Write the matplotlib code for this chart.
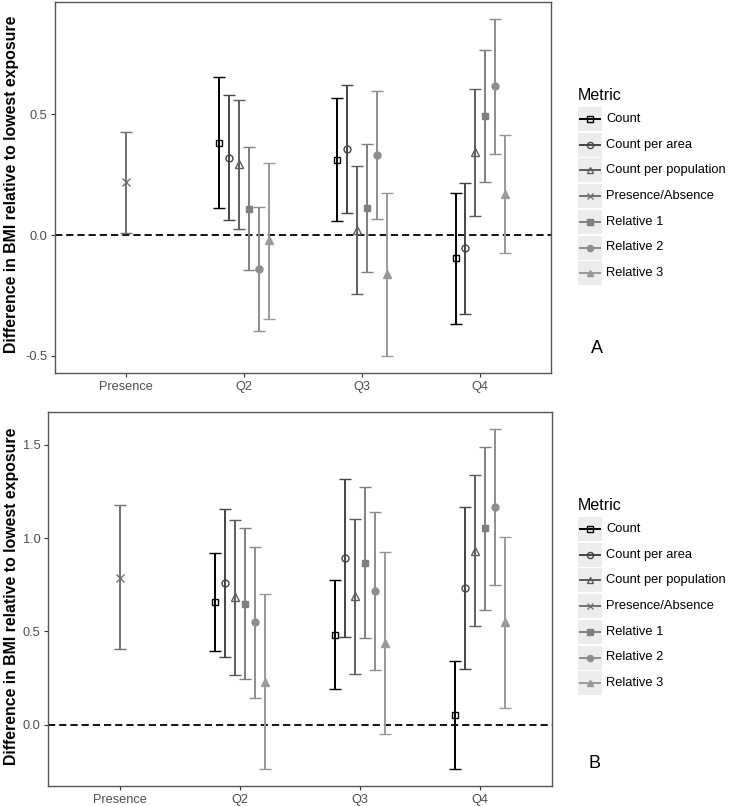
import numpy as np
import matplotlib
matplotlib.use("Agg")
import matplotlib.pyplot as plt
from matplotlib.patches import Rectangle
from matplotlib.lines import Line2D

plt.rcParams['font.family'] = ['Liberation Sans', 'DejaVu Sans']

nan = np.nan
categories = ["Presence", "Q2", "Q3", "Q4"]
metrics = ["Count", "Count per area", "Count per population", "Presence/Absence",
           "Relative 1", "Relative 2", "Relative 3"]
colors = ["#000000", "#444444", "#5D5D5D", "#707070", "#7F7F7F", "#8D8D8D", "#999999"]
markers = ["s", "o", "^", "x", "s", "o", "^"]
filled = [False, False, False, True, True, True, True]
msizes = [4.6, 5.0, 5.4, 5.6, 4.6, 5.0, 5.4]

# Panel A (rows = metrics, columns = categories)
A_est = [[nan, 0.383, 0.311, -0.095],
         [nan, 0.318, 0.355, -0.054],
         [nan, 0.293, 0.022, 0.344],
         [0.218, nan, nan, nan],
         [nan, 0.109, 0.112, 0.493],
         [nan, -0.140, 0.331, 0.616],
         [nan, -0.022, -0.160, 0.169]]
A_lo = [[nan, 0.114, 0.059, -0.366],
        [nan, 0.061, 0.091, -0.325],
        [nan, 0.025, -0.244, 0.080],
        [0.007, nan, nan, nan],
        [nan, -0.146, -0.152, 0.218],
        [nan, -0.399, 0.066, 0.335],
        [nan, -0.347, -0.501, -0.074]]
A_hi = [[nan, 0.656, 0.566, 0.176],
        [nan, 0.580, 0.620, 0.215],
        [nan, 0.559, 0.286, 0.605],
        [0.428, nan, nan, nan],
        [nan, 0.366, 0.379, 0.766],
        [nan, 0.118, 0.598, 0.895],
        [nan, 0.300, 0.176, 0.413]]

# Panel B
B_est = [[nan, 0.657, 0.482, 0.052],
         [nan, 0.758, 0.891, 0.733],
         [nan, 0.683, 0.687, 0.932],
         [0.786, nan, nan, nan],
         [nan, 0.648, 0.868, 1.052],
         [nan, 0.548, 0.717, 1.165],
         [nan, 0.231, 0.440, 0.550]]
B_lo = [[nan, 0.397, 0.192, -0.238],
        [nan, 0.361, 0.468, 0.299],
        [nan, 0.265, 0.270, 0.527],
        [0.404, nan, nan, nan],
        [nan, 0.242, 0.464, 0.617],
        [nan, 0.144, 0.294, 0.747],
        [nan, -0.238, -0.048, 0.091]]
B_hi = [[nan, 0.920, 0.776, 0.342],
        [nan, 1.155, 1.315, 1.165],
        [nan, 1.098, 1.105, 1.340],
        [1.176, nan, nan, nan],
        [nan, 1.055, 1.276, 1.488],
        [nan, 0.954, 1.142, 1.585],
        [nan, 0.699, 0.923, 1.004]]

W, H = 731, 806
fig = plt.figure(figsize=(W / 100, H / 100), dpi=100)


def fx(px):
    return px / W


def fy(py):
    return 1 - py / H


def draw_panel(rect, est, lo, hi, yticks, letter, letter_xy, legend_top):
    x0, y0, x1, y1 = rect
    ax = fig.add_axes([fx(x0), fy(y1), fx(x1) - fx(x0), fy(y0) - fy(y1)])
    est = np.array(est, float)
    lo = np.array(lo, float)
    hi = np.array(hi, float)
    dodge = 0.5 / 6
    q_metrics = [i for i in range(len(metrics)) if metrics[i] != "Presence/Absence"]
    for mi, m in enumerate(metrics):
        xs = np.arange(len(categories), dtype=float)
        if m != "Presence/Absence":
            k = q_metrics.index(mi)
            xs = xs + (k - 2.5) * dodge
        ok = ~np.isnan(est[mi])
        e = est[mi][ok]
        ax.errorbar(xs[ok], e, yerr=[e - lo[mi][ok], hi[mi][ok] - e],
                    fmt=markers[mi], color=colors[mi], ecolor=colors[mi],
                    elinewidth=1.4, capsize=4.2, capthick=1.4,
                    ms=msizes[mi],
                    mfc=colors[mi] if filled[mi] else "none",
                    mec=colors[mi], mew=1.0, zorder=3)
    ax.axhline(0, color="black", lw=1.3, dashes=(4, 2.2), zorder=2)
    ymin = np.nanmin(lo)
    ymax = np.nanmax(hi)
    pad = 0.05 * (ymax - ymin)
    ax.set_ylim(ymin - pad, ymax + pad)
    ax.set_xlim(-0.6, len(categories) - 1 + 0.6)
    ax.set_xticks(range(len(categories)))
    ax.set_xticklabels(categories)
    ax.set_yticks(yticks)
    ax.set_yticklabels([f"{t:.1f}" for t in yticks])
    ax.tick_params(direction="out", length=3, width=0.8, color="#333333",
                   labelcolor="#4d4d4d", labelsize=9.2, pad=2.5)
    for s in ax.spines.values():
        s.set_color("#555555")
        s.set_linewidth(1.0)
    cy = (y0 + y1) / 2
    fig.text(fx(12), fy(cy - 3), "Difference in BMI relative to lowest exposure",
             rotation=90, ha="center", va="center", fontsize=11.4,
             fontweight="bold", color="black")
    fig.text(fx(letter_xy[0]), fy(letter_xy[1]), letter, ha="center", va="center",
             fontsize=13, color="black")
    # legend
    fig.text(fx(578), fy(legend_top - 12), "Metric", ha="left", va="center",
             fontsize=11.5, color="black")
    row_h = 25.7
    for mi, m in enumerate(metrics):
        top = legend_top + mi * row_h
        fig.add_artist(Rectangle((fx(578), fy(top + 24)), fx(24), 24 / H,
                                 transform=fig.transFigure, facecolor="#ececec",
                                 edgecolor="none"))
        yc = fy(top + 12)
        fig.add_artist(Line2D([fx(580), fx(600)], [yc, yc], transform=fig.transFigure,
                              color=colors[mi], lw=1.4))
        fig.add_artist(Line2D([fx(590)], [yc], transform=fig.transFigure,
                              marker=markers[mi], ms=msizes[mi] - 0.6,
                              mfc=colors[mi] if filled[mi] else "none",
                              mec=colors[mi], mew=1.0, color=colors[mi]))
        fig.text(fx(606), yc, m, ha="left", va="center", fontsize=9.3, color="black")
    return ax


draw_panel((55, 2, 551, 373), A_est, A_lo, A_hi, [-0.5, 0.0, 0.5], "A", (597, 349), 107)
draw_panel((48, 412, 552, 786), B_est, B_lo, B_hi, [0.0, 0.5, 1.0, 1.5], "B", (595, 763), 517)

fig.savefig("out.png", dpi=100, facecolor="white")
